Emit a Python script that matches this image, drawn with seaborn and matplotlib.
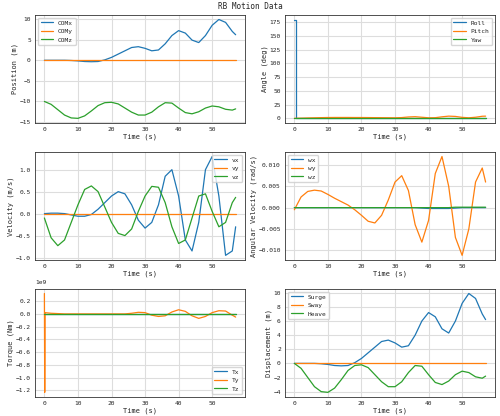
import numpy as np
import matplotlib
matplotlib.use("Agg")
import matplotlib.pyplot as plt
from matplotlib.ticker import MultipleLocator
import seaborn as sns

sns.set_theme(style="whitegrid")
plt.rcParams['font.family'] = ['DejaVu Sans Mono']

### Data
t = [0, 2, 4, 6, 8, 10, 12, 14, 16, 18, 20, 22, 24, 26, 28, 30, 32, 34, 36, 38,
     40, 42, 44, 46, 48, 50, 52, 54, 56, 57]

com_x = [0, 0, 0, 0, -0.05, -0.15, -0.3, -0.35, -0.3, 0.1, 0.7, 1.5, 2.3, 3.1, 3.3,
         2.9, 2.3, 2.5, 4.0, 6.0, 7.2, 6.6, 4.9, 4.3, 6.0, 8.5, 9.9, 9.2, 7.0, 6.2]
com_y = [0] * 30
com_z = [-10, -10.7, -12, -13.3, -14, -14.1, -13.5, -12.3, -11, -10.3, -10.2, -10.6,
         -11.6, -12.6, -13.3, -13.3, -12.6, -11.3, -10.3, -10.4, -11.6, -12.7, -13,
         -12.5, -11.6, -11.1, -11.3, -11.9, -12.1, -11.8]

roll_t = [0, 0.5, 0.5, 57]
roll = [180, 180, 0, 0]
pitch = [0, 0.3, 0.7, 1.0, 1.3, 1.5, 1.6, 1.6, 1.6, 1.5, 1.5, 1.4, 1.3, 1.2, 1.1,
         1.0, 1.4, 2.5, 3.0, 2.0, 1.0, 1.2, 2.8, 4.0, 3.5, 1.8, 1.0, 2.0, 3.8, 4.0]
yaw = [0] * 30

vx = [0, 0.01, 0.01, 0, -0.03, -0.06, -0.06, -0.02, 0.1, 0.25, 0.4, 0.5, 0.45, 0.2,
      -0.15, -0.33, -0.2, 0.2, 0.85, 1.0, 0.4, -0.6, -0.85, -0.2, 1.0, 1.3, 0.4,
      -0.95, -0.85, -0.3]
vy = [0] * 30
vz = [-0.1, -0.55, -0.73, -0.6, -0.2, 0.2, 0.55, 0.63, 0.5, 0.15, -0.2, -0.45, -0.5,
      -0.35, 0.05, 0.4, 0.62, 0.6, 0.25, -0.3, -0.68, -0.6, -0.1, 0.4, 0.45, 0.05,
      -0.3, -0.2, 0.25, 0.37]

wx = [0, 0, 0, 0, 0, 0, 0, 0, 0, 0, 0, 0, 0, 0, 0, 0, 0, 0, 0, -0.0001, -0.0002,
      -0.0002, -0.0002, -0.0002, -0.0001, 0, 0, 0, 0, 0]
wy = [-0.0005, 0.0025, 0.0038, 0.0041, 0.0039, 0.0031, 0.0022, 0.0014, 0.0006,
      -0.0005, -0.0018, -0.0032, -0.0036, -0.0018, 0.0018, 0.006, 0.0075, 0.004,
      -0.004, -0.0081, -0.003, 0.008, 0.012, 0.005, -0.007, -0.0112, -0.005, 0.006,
      0.0093, 0.006]
wz = [0] * 24 + [0.0001] * 6

t_tq = [0, 0.1, 0.2] + t[1:]
tx = [0] * 32
ty = [0.32, -1.23, 0.02, 0.01, 0.005, 0, 0, 0, 0, 0, 0, 0, 0, 0, 0, 0.01, 0.025,
      0.02, -0.02, -0.04, -0.03, 0.03, 0.065, 0.04, -0.03, -0.07, -0.04, 0.02, 0.05,
      0.045, -0.02, -0.05]
tz = [0] * 32

surge = com_x
sway = com_y
heave = [z + 10 for z in com_z]


def style_axis(ax, ylabel, ystep):
    ax.set_xlabel('Time (s)', fontsize=5, labelpad=1)
    ax.set_ylabel(ylabel, fontsize=5, labelpad=1)
    ax.xaxis.set_major_locator(MultipleLocator(10))
    ax.yaxis.set_major_locator(MultipleLocator(ystep))
    ax.set_xlim(-2.8, 59.8)
    ax.tick_params(labelsize=4.5, length=2, pad=1)
    ax.yaxis.get_offset_text().set_fontsize(4.5)
    for s in ax.spines.values():
        s.set_edgecolor('#333333')
        s.set_linewidth(0.6)
    ax.grid(color='#dddddd', linewidth=0.8)


def plot_lines(ax, x, series, labels, loc):
    for ys, lab in zip(series, labels):
        sns.lineplot(x=x, y=ys, ax=ax, label=lab, linewidth=0.9)
    ax.legend(loc=loc, fontsize=4.5, frameon=True)


colors = sns.color_palette("tab10")
sns.set_palette("tab10")

fig, axes = plt.subplots(3, 2, figsize=(5, 4.16), dpi=100)
fig.suptitle('RB Motion Data', fontsize=5.5, y=0.995)

ax = axes[0, 0]
plot_lines(ax, t, [com_x, com_y, com_z], ['COMx', 'COMy', 'COMz'], 'upper left')
style_axis(ax, 'Position (m)', 5)

ax = axes[0, 1]
ax.plot(roll_t, roll, color=colors[0], linewidth=0.9, label='Roll')
ax.plot(t, pitch, color=colors[1], linewidth=0.9, label='Pitch')
ax.plot(t, yaw, color=colors[2], linewidth=0.9, label='Yaw')
ax.legend(loc='upper right', fontsize=4.5)
style_axis(ax, 'Angle (deg)', 25)

ax = axes[1, 0]
plot_lines(ax, t, [vx, vy, vz], ['vx', 'vy', 'vz'], 'upper right')
style_axis(ax, 'Velocity (m/s)', 0.5)

ax = axes[1, 1]
plot_lines(ax, t, [wx, wy, wz], ['wx', 'wy', 'wz'], 'upper left')
style_axis(ax, 'Angular Velocity (rad/s)', 0.005)

ax = axes[2, 0]
plot_lines(ax, t_tq, [np.array(tx) * 1e9, np.array(ty) * 1e9, np.array(tz) * 1e9],
           ['Tx', 'Ty', 'Tz'], 'lower right')
style_axis(ax, 'Torque (Nm)', 0.2e9)

ax = axes[2, 1]
plot_lines(ax, t, [surge, sway, heave], ['Surge', 'Sway', 'Heave'], 'upper left')
style_axis(ax, 'Displacement (m)', 2)

fig.subplots_adjust(left=0.07, right=0.99, top=0.965, bottom=0.045,
                    hspace=0.26, wspace=0.19)
fig.savefig('out.png', dpi=100)
